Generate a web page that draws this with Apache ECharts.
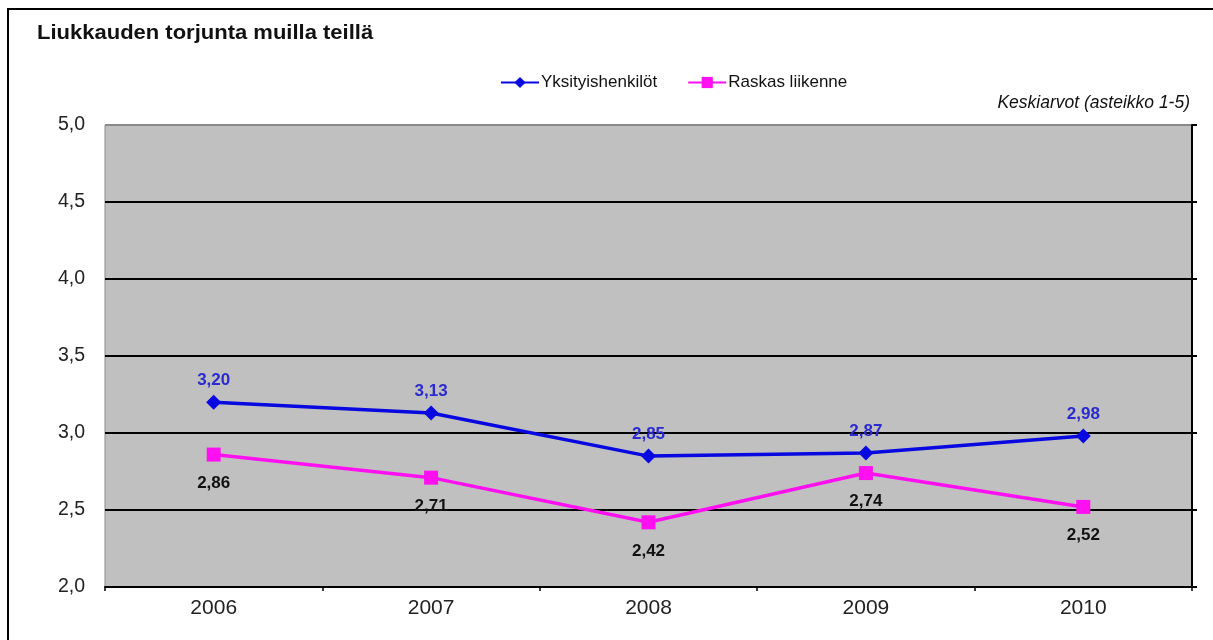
<!DOCTYPE html>
<html>
<head>
<meta charset="utf-8">
<script src="https://cdn.jsdelivr.net/npm/echarts@6/dist/echarts.min.js"></script>
<style>
html,body{margin:0;padding:0;background:#fff;}
#chart{width:1213px;height:640px;}
</style>
</head>
<body>
<div id="chart"></div>
<script>
const categories = ['2006', '2007', '2008', '2009', '2010'];
const yksityis = [3.20, 3.13, 2.85, 2.87, 2.98];
const raskas = [2.86, 2.71, 2.42, 2.74, 2.52];
const seriesNames = ['Yksityishenkilöt', 'Raskas liikenne'];
const titleText = 'Liukkauden torjunta muilla teillä';
const subText = 'Keskiarvot (asteikko 1-5)';

const fmt2 = v => v.toFixed(2).replace('.', ',');
const fmt1 = v => v.toFixed(1).replace('.', ',');
const FONT = '"Liberation Sans", Arial, sans-serif';

const chart = echarts.init(document.getElementById('chart'));
chart.setOption({
  backgroundColor: '#ffffff',
  animation: false,
  graphic: [
    { type: 'rect', shape: { x: 8, y: 9, width: 1230, height: 660 },
      style: { fill: 'none', stroke: '#000', lineWidth: 2 }, z: -1 },
    { type: 'text', x: 37, y: 23, scaleX: 1.1,
      style: { text: titleText, font: 'bold 20px ' + FONT, fill: '#111' } },
    { type: 'text', x: 1190, y: 94,
      style: { text: subText, font: 'italic 17.5px ' + FONT, fill: '#111', align: 'right', textAlign: 'right' } }
  ],
  legend: {
    top: 69,
    left: 495,
    itemWidth: 38,
    itemHeight: 14,
    itemGap: 30,
    textStyle: { fontFamily: FONT, fontSize: 17, color: '#111', padding: [0, 0, 0, -3] },
    data: seriesNames
  },
  grid: {
    left: 105, right: 21, top: 125, bottom: 53,
    show: true, backgroundColor: '#c0c0c0', borderColor: '#8a8a8a', borderWidth: 1
  },
  xAxis: {
    type: 'category',
    data: categories,
    boundaryGap: true,
    axisLine: { lineStyle: { color: '#000', width: 2 } },
    axisTick: { show: true, length: 4, lineStyle: { color: '#000', width: 1.5 } },
    axisLabel: { fontFamily: FONT, fontSize: 21, color: '#222', margin: 11 }
  },
  yAxis: [
    {
      type: 'value', min: 2, max: 5, interval: 0.5,
      axisLine: { show: false },
      axisTick: { show: false },
      splitLine: { show: true, lineStyle: { color: ['#000', '#000', '#000', '#000', '#000', '#000', '#8a8a8a'], width: 2 } },
      axisLabel: { formatter: fmt1, fontFamily: FONT, fontSize: 19.5, color: '#222', margin: 20 }
    },
    {
      type: 'value', min: 2, max: 5, interval: 0.5, position: 'right',
      axisLine: { show: true, lineStyle: { color: '#000', width: 2 } },
      axisTick: { show: true, inside: false, length: 5, lineStyle: { color: '#000', width: 2 } },
      splitLine: { show: false },
      axisLabel: { show: false }
    }
  ],
  series: [
    {
      name: seriesNames[0], type: 'line', data: yksityis,
      symbol: 'diamond', symbolSize: 15,
      itemStyle: { color: '#0808e0' },
      lineStyle: { color: '#0808e0', width: 3.5 },
      label: { show: true, position: 'top', distance: 6, formatter: p => fmt2(p.value),
        fontFamily: FONT, fontWeight: 'bold', fontSize: 17, color: '#2a2ad0' },
      z: 3
    },
    {
      name: seriesNames[1], type: 'line', data: raskas,
      symbol: 'rect', symbolSize: 14,
      itemStyle: { color: '#ff10f0' },
      lineStyle: { color: '#ff10f0', width: 3.5 },
      label: { show: true, position: 'bottom', distance: 13, formatter: p => fmt2(p.value),
        fontFamily: FONT, fontWeight: 'bold', fontSize: 17, color: '#111' },
      z: 2
    }
  ]
});
</script>
</body>
</html>
